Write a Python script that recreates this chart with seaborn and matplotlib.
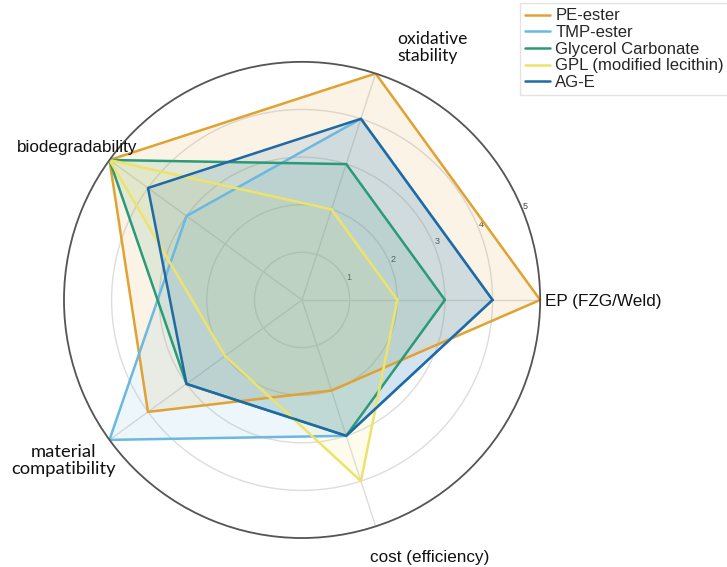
import numpy as np
import pandas as pd
import matplotlib
matplotlib.use("Agg")
import matplotlib.pyplot as plt
import seaborn as sns

# Radar chart comparing lubricant base stocks / additives on five criteria

criteria = ["EP (FZG/Weld)", "oxidative\nstability", "biodegradability",
            "material\ncompatibility", "cost (efficiency)"]
series_names = ["PE-ester", "TMP-ester", "Glycerol Carbonate",
                "GPL (modified lecithin)", "AG-E"]
pe_ester = [5, 5, 5, 4, 2]
tmp_ester = [4, 4, 3, 5, 3]
glycerol_carbonate = [3, 3, 5, 3, 3]
gpl = [2, 2, 5, 2, 4]
ag_e = [4, 4, 4, 3, 3]
colors = ["#e0a232", "#6bb8e0", "#2a9a78", "#eee36a", "#1f6aa5"]

df = pd.DataFrame([pe_ester, tmp_ester, glycerol_carbonate, gpl, ag_e],
                  index=series_names, columns=criteria)

sns.set_style("white")
plt.rcParams["font.family"] = ["Liberation Sans", "DejaVu Sans"]

fig = plt.figure(figsize=(7.27, 5.67), dpi=100)
ax = fig.add_axes([0.088, 0.051, 0.655, 0.84], projection="polar")

angles = np.linspace(0, 2 * np.pi, len(criteria), endpoint=False)
closed = np.append(angles, angles[0])

for name, color in zip(series_names, colors):
    vals = df.loc[name].to_numpy()
    vals = np.append(vals, vals[0])
    ax.plot(closed, vals, color=color, linewidth=1.8, label=name)
    ax.fill(closed, vals, color=color, alpha=0.12)

ax.set_ylim(0, 5)
ax.set_yticks([1, 2, 3, 4, 5])
ax.set_yticklabels(["1", "2", "3", "4", "5"], fontsize=6.5, color="#444444")
ax.set_rlabel_position(22)
ax.set_xticks(angles)
ax.set_xticklabels([])
ax.grid(color="#dddddd", linewidth=1)
ax.spines["polar"].set_color("#555555")
ax.spines["polar"].set_linewidth(1.3)

# axis labels placed by hand next to the rim, like the original
label_style = [
    ("left", "center", "left", (5, -2), "Liberation Sans", 12.3),    # EP
    ("left", "bottom", "left", (22, 10), "Lato", 12.6),              # oxidative stability
    ("right", "bottom", "left", (28, 5), "Liberation Sans", 12.3),   # biodegradability
    ("right", "top", "center", (6, -4), "Lato", 13.2),               # material compatibility
    ("left", "center", "left", (-6, -31), "Liberation Sans", 12.3),  # cost
]
for text, ang, (ha, va, ma, off, fam, size) in zip(criteria, angles, label_style):
    ax.annotate(text, xy=(ang, 5), xytext=off, textcoords="offset pixels",
                ha=ha, va=va, fontsize=size, color="#111111",
                family=[fam, "DejaVu Sans"], multialignment=ma,
                linespacing=1.05, annotation_clip=False)

fig.legend(loc="upper left", bbox_to_anchor=(517 / 727, 1.0), fontsize=12,
           frameon=True, fancybox=False, edgecolor="#dddddd",
           handlelength=1.5, handletextpad=0.3, labelspacing=0.1,
           borderpad=0.3, borderaxespad=0.2)

fig.savefig("out.png", dpi=100)
